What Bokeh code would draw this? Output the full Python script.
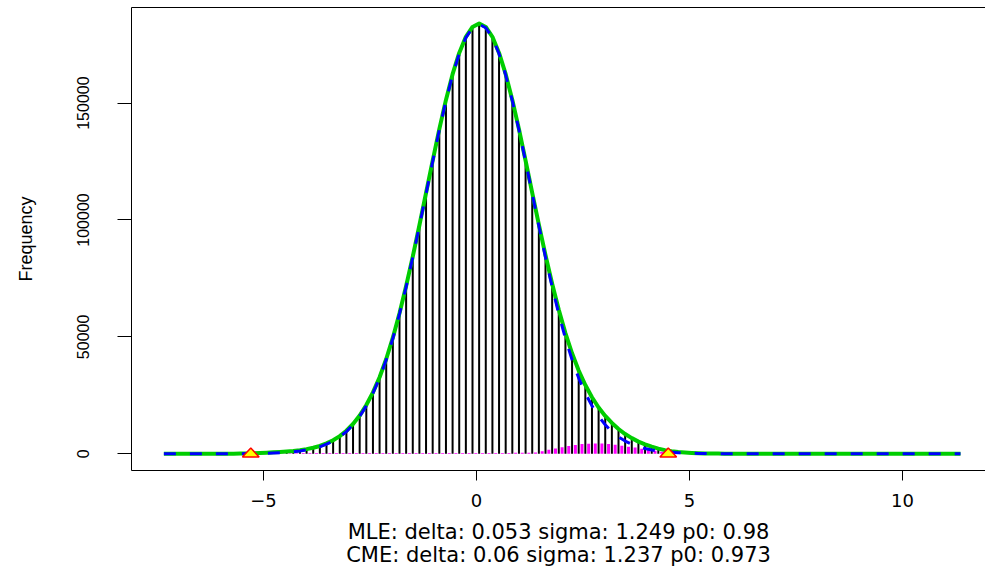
import numpy as np
from bokeh.plotting import figure
from bokeh.models import (Range1d, LinearAxis, FixedTicker,
                          BasicTickFormatter, ColumnDataSource)
from bokeh.embed import file_html
from bokeh.resources import INLINE

# ---------------- data ----------------
bin_start = -7.34          # left edge of first histogram bin
bin_width = 0.1558
n_bins = 120
data_min, data_max = -7.34, 11.36

# black histogram counts, one per bin (bin centres)
black_counts = [0, 0, 0, 1, 1, 2, 3, 5, 9, 15,
                25, 45, 80, 130, 200, 300, 430, 600, 820, 1100,
                1600, 2100, 2700, 3500, 4650, 6050, 7850, 10200, 13200, 16900,
                21500, 27000, 33600, 41500, 50700, 61300, 72900, 85500, 98800, 112400,
                126100, 139400, 151700, 162500, 171400, 178200, 182400, 183900, 182500, 178400,
                171700, 162800, 151900, 139500, 126100, 112400, 98900, 85800, 73600, 62500,
                52400, 43700, 36200, 29900, 24600, 20100, 16400, 13300, 10600, 8400,
                6600, 5100, 3950, 2950, 2100, 1500, 1020, 700, 480, 320,
                220, 150, 100, 65, 40, 25, 15, 10, 6, 4,
                3, 2, 2, 1, 1, 1]

# magenta histogram counts (drawn at bin left edges)
magenta_counts = [0, 0, 0, 0, 0, 0, 0, 0, 0, 0,
                  0, 0, 0, 0, 0, 0, 0, 0, 120, 200,
                  270, 320, 340, 360, 350, 370, 360, 350, 380, 370,
                  360, 380, 370, 360, 350, 370, 360, 350, 340, 360,
                  350, 340, 360, 350, 340, 350, 360, 350, 340, 360,
                  350, 370, 380, 400, 420, 450, 600, 1100, 1700, 2300,
                  2800, 3350, 3800, 4150, 4300, 4400, 4350, 4200, 3900, 3450,
                  3000, 2650, 2200, 1800, 1300, 900, 500, 250, 100, 50,
                  20]

# blue dashed fitted curve, at bin centres
blue_curve = [0, 0, 1, 1, 2, 3, 4, 7, 12, 20,
              30, 50, 75, 110, 160, 230, 330, 460, 640, 880,
              1200, 1650, 2250, 3000, 4100, 5450, 7200, 9500, 12400, 16000,
              20500, 25900, 32400, 40200, 49300, 59800, 71400, 84000, 97400, 111200,
              125000, 138500, 151000, 162000, 171100, 178000, 182200, 183700, 182200, 178000,
              171100, 162000, 151000, 138500, 125000, 111200, 97400, 84000, 71400, 59800,
              49300, 40200, 32400, 25900, 20500, 16000, 12400, 9500, 7200, 5450,
              4100, 3000, 2250, 1650, 1200, 880, 640, 460, 330, 230,
              160, 110, 75, 50, 30, 20, 12, 7, 4, 3,
              2, 1, 1]

# green fitted curve, at bin centres
green_curve = [0, 0, 1, 1, 2, 3, 4, 7, 12, 20,
               60, 110, 175, 260, 360, 480, 630, 790, 990, 1230,
               1550, 2000, 2600, 3350, 4450, 5800, 7550, 9850, 12750, 16350,
               20850, 26250, 32750, 40550, 49650, 60150, 71750, 84350, 97750, 111550,
               125350, 138850, 151350, 162350, 171450, 178350, 182550, 184050, 182550, 178350,
               171450, 162350, 151350, 138850, 125350, 111600, 98000, 84900, 72700, 61600,
               51600, 43000, 35600, 29400, 24200, 19800, 16200, 13200, 10600, 8450,
               6700, 5200, 4050, 3050, 2200, 1580, 1090, 760, 530, 360,
               250, 170, 115, 75, 45, 30, 17, 12, 9, 8,
               7, 6, 6, 5, 5, 5]

marker_x = [-5.30, 4.50]
marker_y = [0, 0]

x_ticks = [-5, 0, 5, 10]
y_ticks = [0, 50000, 100000, 150000]

y_label = "Frequency"
line1 = "MLE: delta: 0.053 sigma: 1.249 p0: 0.98"
line2 = "CME: delta: 0.06 sigma: 1.237 p0: 0.973"

# ---------------- derived columns ----------------
def pad(v):
    return list(v) + [0] * (n_bins - len(v))

edges = bin_start + bin_width * np.arange(n_bins)
centres = edges + bin_width / 2

hist_src = ColumnDataSource(dict(x=centres, top=pad(black_counts)))
mag_src = ColumnDataSource(dict(x=edges, top=pad(magenta_counts)))
cx = np.concatenate([[data_min], centres, [data_max]])
blue_src = ColumnDataSource(dict(x=cx, y=[0] + pad(blue_curve) + [0]))
green_src = ColumnDataSource(dict(x=cx, y=[0] + pad(green_curve) + [0]))

# triangle markers (flattened shape, sizes in data units)
hw, up, dn = 0.196, 2440, 1410
tri_xs = [[x - hw, x + hw, x] for x in marker_x]
tri_ys = [[y - dn, y - dn, y + up] for y in marker_y]

FONT = "Liberation Sans"
WIDE = "DejaVu Sans"

Y0, Y1 = -7145, 190880

p = figure(width=985, height=570, output_backend="svg", toolbar_location=None,
           x_range=Range1d(-8.10, 11.947), y_range=Range1d(Y0, Y1),
           min_border_left=131, min_border_right=0, min_border_top=7,
           min_border_bottom=100, x_axis_location=None, y_axis_location=None,
           background_fill_color="white", border_fill_color="white")
p.outline_line_color = None
p.xgrid.visible = False
p.ygrid.visible = False

# axes
xa = LinearAxis(ticker=FixedTicker(ticks=x_ticks))
xa.major_tick_out = 10
xa.major_tick_in = 0
xa.minor_tick_line_color = None
xa.axis_line_color = "black"
xa.major_tick_line_color = "black"
xa.major_label_text_font = WIDE
xa.major_label_text_font_size = "18px"
xa.major_label_text_color = "black"
xa.major_label_standoff = 13
xa.axis_label = line1 + "\n" + line2
xa.axis_label_text_font = WIDE
xa.axis_label_text_font_size = "21px"
xa.axis_label_text_font_style = "normal"
xa.axis_label_text_color = "black"
xa.axis_label_text_line_height = 0.98
xa.axis_label_standoff = 10
p.add_layout(xa, "below")

ya = LinearAxis(ticker=FixedTicker(ticks=y_ticks),
                formatter=BasicTickFormatter(use_scientific=False))
ya.major_tick_out = 14
ya.major_tick_in = 0
ya.minor_tick_line_color = None
ya.axis_line_color = "black"
ya.major_tick_line_color = "black"
ya.major_label_orientation = "vertical"
ya.major_label_text_font = FONT
ya.major_label_text_font_size = "16px"
ya.major_label_text_color = "black"
ya.major_label_standoff = 28
ya.axis_label = y_label
ya.axis_label_text_font = FONT
ya.axis_label_text_font_size = "18px"
ya.axis_label_text_font_style = "normal"
ya.axis_label_text_color = "black"
ya.axis_label_standoff = 39
p.add_layout(ya, "left")

ta = LinearAxis(ticker=FixedTicker(ticks=[]))
ta.major_tick_out = 0
ta.major_tick_in = 0
ta.minor_tick_line_color = None
ta.major_label_standoff = 0
ta.major_label_text_font_size = "0px"
ta.axis_line_color = "black"
p.add_layout(ta, "above")

# histograms as vertical lines
p.segment(x0="x", y0=0, x1="x", y1="top", source=hist_src,
          line_color="black", line_width=2)
p.segment(x0="x", y0=0, x1="x", y1="top", source=mag_src,
          line_color="#FF00FF", line_width=3)

# fitted curves
p.line("x", "y", source=green_src, line_color="#00CD00", line_width=4,
       line_join="round")
p.line("x", "y", source=blue_src, line_color="#0000FF", line_width=3,
       line_dash="12 14", line_join="round")

# triangles
p.patches(tri_xs, tri_ys, fill_color="#FFFF00", line_color="#FF0000",
          line_width=1.5)

open("out.html", "w").write(file_html(p, INLINE))
